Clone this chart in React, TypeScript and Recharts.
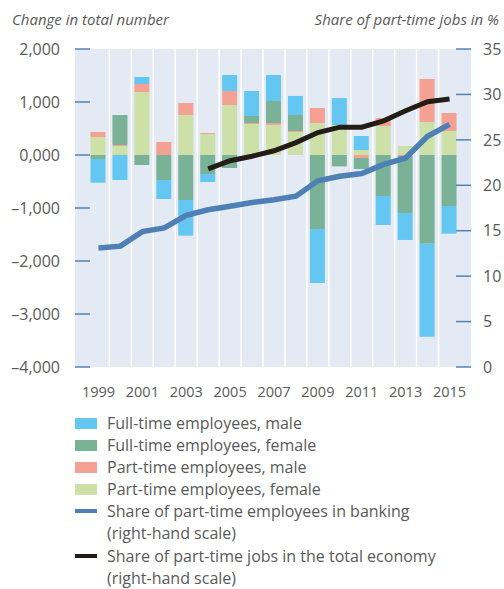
import React from 'react';
import {
  ComposedChart, Bar, Line, XAxis, YAxis, CartesianGrid, ReferenceLine,
} from 'recharts';

const years = [1999, 2000, 2001, 2002, 2003, 2004, 2005, 2006, 2007, 2008, 2009, 2010, 2011, 2012, 2013, 2014, 2015];

// change in total number (left scale)
const ftMale = [-447, -472, 132, -359, -673, -151, 302, 472, 491, 359, -1019, 509, 264, -547, -509, -1755, -522];
const ftFemale = [-75, 566, -189, -472, -849, -358, -245, 132, 415, 302, -1396, -215, -208, -774, -1075, -1673, -962];
const ptMale = [94, 19, 151, 245, 226, 19, 264, 19, 38, 19, 283, 0, -57, 150, -19, 811, 340];
const ptFemale = [340, 170, 1189, 0, 755, 396, 943, 585, 566, 434, 604, 566, 94, 547, 170, 623, 453];

// shares in % (right scale)
const bankingShare = [13.1, 13.3, 14.9, 15.3, 16.7, 17.3, 17.7, 18.1, 18.4, 18.8, 20.5, 21.0, 21.3, 22.3, 23.0, 25.4, 26.7];
const economyShare = [null, null, null, null, null, 21.8, 22.7, 23.2, 23.8, 24.7, 25.8, 26.4, 26.4, 27.1, 28.2, 29.2, 29.5];

const leftTicks = [-4000, -3000, -2000, -1000, 0, 1000, 2000];
const rightTicks = [0, 5, 10, 15, 20, 25, 30, 35];
const yearTicks = [1999, 2001, 2003, 2005, 2007, 2009, 2011, 2013, 2015];

const COLORS = {
  ftMale: '#63C7F1',
  ftFemale: '#79B296',
  ptMale: '#F4A193',
  ptFemale: '#CDE0A7',
  banking: '#4E80B6',
  economy: '#241C17',
  bg: '#E4EAF3',
  tick: '#5282B8',
  text: '#595959',
};

const FONT = '"Open Sans", Lato, sans-serif';

const legendItems = [
  { label: ['Full-time employees, male'], color: COLORS.ftMale, kind: 'box' },
  { label: ['Full-time employees, female'], color: COLORS.ftFemale, kind: 'box' },
  { label: ['Part-time employees, male'], color: COLORS.ptMale, kind: 'box' },
  { label: ['Part-time employees, female'], color: COLORS.ptFemale, kind: 'box' },
  { label: ['Share of part-time employees in banking', '(right-hand scale)'], color: COLORS.banking, kind: 'line' },
  { label: ['Share of part-time jobs in the total economy', '(right-hand scale)'], color: COLORS.economy, kind: 'line' },
];

const data = years.map((year, i) => ({
  year,
  ftMale: ftMale[i],
  ftFemale: ftFemale[i],
  ptMale: ptMale[i],
  ptFemale: ptFemale[i],
  banking: bankingShare[i],
  economy: economyShare[i],
}));

// white separators between the year columns
const separators = years.slice(1).map((y) => y - 0.5);

const fmtLeft = (v: number) => {
  if (v === 0) return '0,000';
  return (v < 0 ? '\u2013' : '') + Math.abs(v).toLocaleString('en-US');
};

const LeftTick = ({ x, y, payload }: any) => (
  <g>
    <line x1={x} x2={x + 15} y1={y} y2={y} stroke={COLORS.tick} strokeWidth={1.5} />
    <text x={x - 15} y={y} dy="0.36em" textAnchor="end" fill={COLORS.text} fontSize={16} fontFamily={FONT}>
      {fmtLeft(payload.value)}
    </text>
  </g>
);

const RightTick = ({ x, y, payload }: any) => (
  <g>
    <line x1={x - 15} x2={x} y1={y} y2={y} stroke={COLORS.tick} strokeWidth={1.5} />
    <text x={x + 12} y={y} dy="0.36em" textAnchor="start" fill={COLORS.text} fontSize={16} fontFamily={FONT}>
      {payload.value}
    </text>
  </g>
);

export default function App() {
  return (
    <div style={{ position: 'absolute', left: 0, top: 0, width: 504, height: 589, background: '#fff', fontFamily: FONT }}>
      <div style={{ position: 'absolute', left: 12, top: 9, fontSize: 15, fontStyle: 'italic', color: COLORS.text }}>
        Change in total number
      </div>
      <div style={{ position: 'absolute', right: 5, top: 9, fontSize: 15, fontStyle: 'italic', color: COLORS.text }}>
        Share of part-time jobs in %
      </div>

      <ComposedChart
        width={504}
        height={420}
        data={data}
        stackOffset="sign"
        margin={{ top: 49, right: 0, bottom: 0, left: 0 }}
        style={{ position: 'absolute', left: 0, top: 0 }}
      >
        <CartesianGrid horizontal={false} vertical={false} fill={COLORS.bg} />
        <XAxis
          dataKey="year"
          type="number"
          domain={[1997.93, 2015.98]}
          allowDataOverflow
          ticks={yearTicks}
          axisLine={false}
          tickLine={false}
          height={53}
          tickMargin={14}
          tick={{ fill: COLORS.text, fontSize: 14.5, fontFamily: FONT }}
        />
        <YAxis
          yAxisId="left"
          orientation="left"
          width={75}
          domain={[-4000, 2000]}
          ticks={leftTicks}
          axisLine={false}
          tickLine={false}
          tickSize={0}
          tickMargin={0}
          tick={(p: any) => <LeftTick {...p} />}
        />
        <YAxis
          yAxisId="right"
          orientation="right"
          width={33}
          domain={[0, 35]}
          ticks={rightTicks}
          axisLine={false}
          tickLine={false}
          tickSize={0}
          tickMargin={0}
          tick={(p: any) => <RightTick {...p} />}
        />
        {separators.map((s) => (
          <ReferenceLine key={s} x={s} yAxisId="left" stroke="#ffffff" strokeWidth={1.5} />
        ))}
        <Bar yAxisId="left" dataKey="ptFemale" stackId="a" fill={COLORS.ptFemale} barSize={15} isAnimationActive={false} />
        <Bar yAxisId="left" dataKey="ptMale" stackId="a" fill={COLORS.ptMale} barSize={15} isAnimationActive={false} />
        <Bar yAxisId="left" dataKey="ftFemale" stackId="a" fill={COLORS.ftFemale} barSize={15} isAnimationActive={false} />
        <Bar yAxisId="left" dataKey="ftMale" stackId="a" fill={COLORS.ftMale} barSize={15} isAnimationActive={false} />
        <Line yAxisId="right" dataKey="banking" stroke={COLORS.banking} strokeWidth={5.5} dot={false} isAnimationActive={false} />
        <Line yAxisId="right" dataKey="economy" stroke={COLORS.economy} strokeWidth={5} dot={false} isAnimationActive={false} />
      </ComposedChart>

      <div style={{ position: 'absolute', left: 75, top: 412, fontSize: 16, lineHeight: '22.1px', color: COLORS.text }}>
        {legendItems.map((item) => (
          <div key={item.label[0]} style={{ display: 'flex', alignItems: 'flex-start' }}>
            <div style={{ width: 22, height: 22.1, display: 'flex', alignItems: 'center', marginRight: 10, flexShrink: 0 }}>
              <div style={{ width: 22, height: item.kind === 'box' ? 11 : 4, background: item.color }} />
            </div>
            <div>
              {item.label.map((l) => (
                <div key={l}>{l}</div>
              ))}
            </div>
          </div>
        ))}
      </div>
    </div>
  );
}
